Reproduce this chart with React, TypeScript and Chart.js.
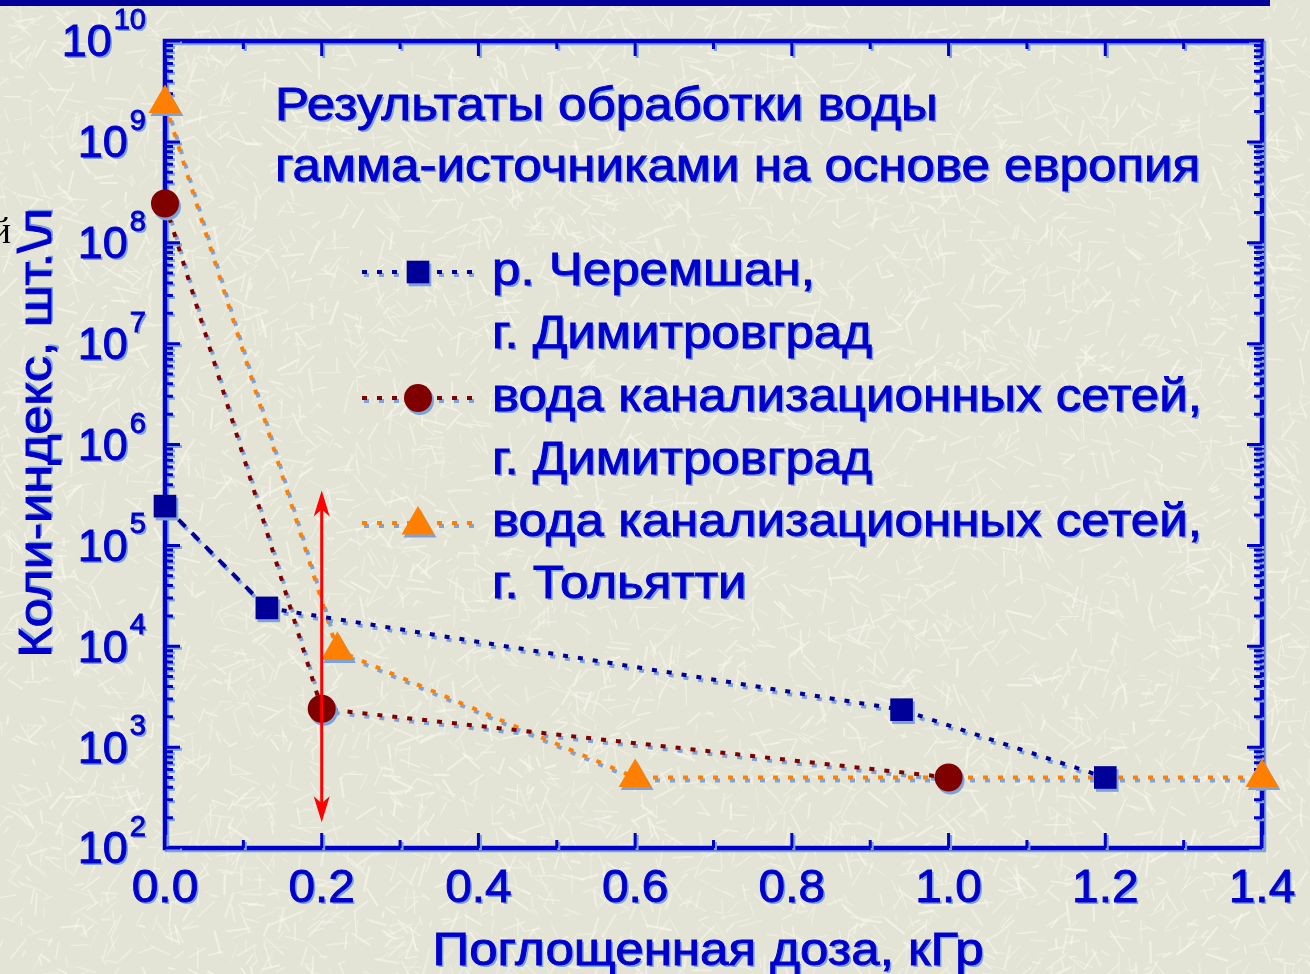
import { useEffect, useRef } from "react";
import { Chart, registerables } from "chart.js";

Chart.register(...registerables);

// Absorbed dose (kGy) and coli-index (cells per litre) for each water source
const doseCheremshan = [0, 0.13, 0.94, 1.2];
const coliCheremshan = [2.45e5, 2.4e4, 2.35e3, 500];

const doseDimitrovgrad = [0, 0.2, 1.0];
const coliDimitrovgrad = [2.45e8, 2.4e3, 500];

const doseTogliatti = [0, 0.22, 0.6, 1.4];
const coliTogliatti = [2.4e9, 9.1e3, 500, 500];

const seriesLabels = [
  ["р. Черемшан,", "г. Димитровград"],
  ["вода канализационных сетей,", "г. Димитровград"],
  ["вода канализационных сетей,", "г. Тольятти"],
];
const seriesColors = ["#000099", "#800000", "#FF8000"];

const titleLines = ["Результаты обработки воды", "гамма-источниками на основе европия"];
const xTitle = "Поглощенная доза, кГр";
const yTitle = "Коли-индекс, шт.\\л";

const xTickValues = [0, 0.2, 0.4, 0.6, 0.8, 1.0, 1.2, 1.4];
const xTickLabels = ["0.0", "0.2", "0.4", "0.6", "0.8", "1.0", "1.2", "1.4"];
const xMinorValues = [0.1, 0.3, 0.5, 0.7, 0.9, 1.1, 1.3];
const yExponents = [2, 3, 4, 5, 6, 7, 8, 9, 10];

// Threshold marker: vertical double-headed arrow at 0.2 kGy
const arrowDose = 0.2;
const arrowTop = 3.5e5;
const arrowBottom = 180;

const FONT = '"Liberation Sans", Arial, sans-serif';
const INK = "#0000CC";
const SHADOW = "#7EA2D8";
const PROSE = `46px ${FONT}`;
const PROSE_STRETCH = 1.11;

function fabricNoise(seed: number) {
  let a = seed;
  return () => {
    a = (a + 0x6d2b79f5) | 0;
    let t = Math.imul(a ^ (a >>> 15), 1 | a);
    t = (t + Math.imul(t ^ (t >>> 7), 61 | t)) ^ t;
    return ((t ^ (t >>> 14)) >>> 0) / 4294967296;
  };
}

function setShadow(ctx: CanvasRenderingContext2D, dx = 2, dy = 2) {
  ctx.shadowColor = SHADOW;
  ctx.shadowOffsetX = dx;
  ctx.shadowOffsetY = dy;
  ctx.shadowBlur = 0;
}

// Filled text (with its drop shadow) plus a hairline outline for a heavier look
function inkText(ctx: CanvasRenderingContext2D, text: string, x: number, y: number) {
  ctx.fillText(text, x, y);
  const sc = ctx.shadowColor;
  ctx.shadowColor = "rgba(0,0,0,0)";
  ctx.lineWidth = 0.9;
  ctx.strokeText(text, x, y);
  ctx.shadowColor = sc;
}

function wideText(
  ctx: CanvasRenderingContext2D,
  text: string,
  x: number,
  y: number,
  sx: number,
  align: CanvasTextAlign,
  rot = 0
) {
  ctx.save();
  ctx.translate(x, y);
  if (rot) ctx.rotate(rot);
  ctx.scale(sx, 1);
  ctx.textAlign = align;
  inkText(ctx, text, 0, 0);
  ctx.restore();
}

function drawMarker(ctx: CanvasRenderingContext2D, kind: number, x: number, y: number) {
  ctx.fillStyle = seriesColors[kind];
  ctx.beginPath();
  if (kind === 0) {
    const h = 16 * Math.SQRT1_2;
    ctx.rect(x - h, y - h, 2 * h, 2 * h);
  } else if (kind === 1) {
    ctx.arc(x, y, 14, 0, Math.PI * 2);
  } else {
    const r = 19;
    for (let k = 0; k < 3; k++) {
      const a = (k * 2 * Math.PI) / 3;
      const px = x + Math.sin(a) * r;
      const py = y - Math.cos(a) * r;
      if (k === 0) ctx.moveTo(px, py);
      else ctx.lineTo(px, py);
    }
    ctx.closePath();
  }
  ctx.fill();
}

const framePlugin = {
  id: "frame",
  beforeDraw(chart: any) {
    const ctx: CanvasRenderingContext2D = chart.ctx;
    const W = chart.width;
    const H = chart.height;
    ctx.save();
    ctx.fillStyle = "#E3E3D6";
    ctx.fillRect(0, 0, W, H);
    // woven-fibre backdrop
    const rnd = fabricNoise(20240611);
    ctx.lineCap = "round";
    for (let i = 0; i < 6500; i++) {
      const x = rnd() * W;
      const y = rnd() * H;
      const len = 5 + rnd() * 20;
      const ang = rnd() * Math.PI;
      ctx.strokeStyle = `rgba(248,248,238,${0.3 + rnd() * 0.35})`;
      ctx.lineWidth = 1 + rnd() * 1.5;
      ctx.beginPath();
      ctx.moveTo(x, y);
      ctx.lineTo(x + Math.cos(ang) * len, y + Math.sin(ang) * len);
      ctx.stroke();
    }
    // top band
    ctx.fillStyle = "#000099";
    ctx.fillRect(0, 0, 1270, 6);

    // stray glyph at the left edge
    ctx.fillStyle = "#000000";
    ctx.font = '38px "Liberation Serif", serif';
    ctx.textAlign = "right";
    ctx.textBaseline = "alphabetic";
    ctx.fillText("й", 11, 243);
    ctx.restore();
  },
  beforeDatasetsDraw(chart: any) {
    const ctx: CanvasRenderingContext2D = chart.ctx;
    const xs = chart.scales.x;
    const ys = chart.scales.y;
    const { left, right, top, bottom } = chart.chartArea;

    ctx.save();
    setShadow(ctx, 2, 2);
    ctx.strokeStyle = INK;
    ctx.fillStyle = INK;

    // frame
    ctx.lineWidth = 4.5;
    ctx.lineJoin = "miter";
    ctx.strokeRect(left, top, right - left, bottom - top);

    // ticks (pointing inward, mirrored on all sides)
    ctx.lineWidth = 3;
    ctx.beginPath();
    const xTick = (v: number, len: number) => {
      const px = xs.getPixelForValue(v);
      ctx.moveTo(px, bottom);
      ctx.lineTo(px, bottom - len);
      ctx.moveTo(px, top);
      ctx.lineTo(px, top + len);
    };
    const yTick = (v: number, len: number) => {
      const py = ys.getPixelForValue(v);
      ctx.moveTo(left, py);
      ctx.lineTo(left + len, py);
      ctx.moveTo(right, py);
      ctx.lineTo(right - len, py);
    };
    xTickValues.forEach((v) => xTick(v, 15));
    xMinorValues.forEach((v) => xTick(v, 8));
    yExponents.forEach((e) => {
      yTick(Math.pow(10, e), 15);
      if (e < 10) for (let m = 2; m <= 9; m++) yTick(m * Math.pow(10, e), 8);
    });
    ctx.stroke();

    ctx.textBaseline = "middle";

    // x tick labels
    ctx.font = `46px ${FONT}`;
    xTickValues.forEach((v, i) => {
      wideText(ctx, xTickLabels[i], xs.getPixelForValue(v), 889, 1.04, "center");
    });

    // y tick labels: 10 with superscript exponent
    const labelRight = 146;
    yExponents.forEach((e) => {
      const py = ys.getPixelForValue(Math.pow(10, e));
      ctx.font = `29px ${FONT}`;
      const ew = ctx.measureText(String(e)).width;
      ctx.textAlign = "left";
      inkText(ctx, String(e), labelRight - ew, py - 20);
      ctx.font = `45px ${FONT}`;
      ctx.textAlign = "right";
      inkText(ctx, "10", labelRight - ew - 2, py + 3);
    });

    // axis titles
    ctx.font = PROSE;
    wideText(ctx, xTitle, 708, 952, PROSE_STRETCH, "center");
    ctx.shadowOffsetX = 2;
    ctx.shadowOffsetY = -2;
    wideText(ctx, yTitle, 38, 433, PROSE_STRETCH * 1.02, "center", -Math.PI / 2);
    ctx.shadowOffsetX = 2;
    ctx.shadowOffsetY = 2;

    // chart title
    wideText(ctx, titleLines[0], 275, 107, PROSE_STRETCH, "left");
    wideText(ctx, titleLines[1], 275, 168, PROSE_STRETCH, "left");

    // legend text
    const rows = [272, 335, 398, 461, 523, 585];
    let r = 0;
    seriesLabels.forEach((lines) => {
      lines.forEach((t) => {
        wideText(ctx, t, 492, rows[r++], PROSE_STRETCH, "left");
      });
    });
    ctx.restore();

    // shadows for the data lines and markers
    ctx.save();
    setShadow(ctx, 2, 3);
  },
  afterDatasetsDraw(chart: any) {
    const ctx: CanvasRenderingContext2D = chart.ctx;
    ctx.restore();

    // legend samples
    ctx.save();
    setShadow(ctx, 2, 3);
    const sampleRows = [272, 398, 523];
    sampleRows.forEach((y, k) => {
      ctx.strokeStyle = seriesColors[k];
      ctx.lineWidth = 4;
      ctx.setLineDash([5, 10]);
      ctx.beginPath();
      ctx.moveTo(362, y);
      ctx.lineTo(472, y);
      ctx.stroke();
      ctx.setLineDash([]);
      drawMarker(ctx, k, 418, k === 2 ? y + 2 : y);
    });
    ctx.restore();

    // red arrow
    const xs = chart.scales.x;
    const ys = chart.scales.y;
    const ax = xs.getPixelForValue(arrowDose);
    const yTop = ys.getPixelForValue(arrowTop);
    const yBot = ys.getPixelForValue(arrowBottom);
    ctx.save();
    ctx.strokeStyle = "#FF0000";
    ctx.fillStyle = "#FF0000";
    ctx.lineWidth = 3;
    ctx.beginPath();
    ctx.moveTo(ax, yTop + 10);
    ctx.lineTo(ax, yBot - 10);
    ctx.stroke();
    const head = (tipY: number, dir: number) => {
      ctx.beginPath();
      ctx.moveTo(ax, tipY);
      ctx.lineTo(ax + 8, tipY + dir * 26);
      ctx.lineTo(ax, tipY + dir * 19);
      ctx.lineTo(ax - 8, tipY + dir * 26);
      ctx.closePath();
      ctx.fill();
    };
    head(yTop, 1);
    head(yBot, -1);
    ctx.restore();
  },
};

function toPoints(xs: number[], ys: number[]) {
  return xs.map((x, i) => ({ x, y: ys[i] }));
}

export default function App() {
  const canvasRef = useRef<HTMLCanvasElement | null>(null);

  useEffect(() => {
    const canvas = canvasRef.current;
    if (!canvas) return;
    const common = {
      borderWidth: 4,
      borderDash: [5, 10],
      borderCapStyle: "butt" as const,
      tension: 0,
      pointBorderWidth: 0,
      pointHoverRadius: 0,
      clip: false as const,
      fill: false,
    };
    const chart = new Chart(canvas, {
      type: "line",
      data: {
        datasets: [
          {
            ...common,
            label: seriesLabels[0].join(" "),
            data: toPoints(doseCheremshan, coliCheremshan),
            borderColor: seriesColors[0],
            pointBackgroundColor: seriesColors[0],
            pointStyle: "rect",
            pointRadius: 16,
            segment: {
              borderDash: (c: any) => (c.p0DataIndex === 0 ? [10, 9] : undefined),
            },
          },
          {
            ...common,
            label: seriesLabels[1].join(" "),
            data: toPoints(doseDimitrovgrad, coliDimitrovgrad),
            borderColor: seriesColors[1],
            pointBackgroundColor: seriesColors[1],
            pointStyle: "circle",
            pointRadius: 14,
          },
          {
            ...common,
            label: seriesLabels[2].join(" "),
            data: toPoints(doseTogliatti, coliTogliatti),
            borderColor: seriesColors[2],
            pointBackgroundColor: seriesColors[2],
            pointStyle: "triangle",
            pointRadius: 19,
          },
        ],
      },
      options: {
        responsive: false,
        animation: false,
        events: [],
        layout: { padding: { left: 165, right: 48, top: 41, bottom: 126 } },
        scales: {
          x: { type: "linear", min: 0, max: 1.4, display: false },
          y: { type: "logarithmic", min: 100, max: 1e10, display: false },
        },
        plugins: {
          legend: { display: false },
          tooltip: { enabled: false },
        },
      },
      plugins: [framePlugin],
    });
    return () => chart.destroy();
  }, []);

  return (
    <div style={{ position: "fixed", left: 0, top: 0, width: 1310, height: 974 }}>
      <canvas ref={canvasRef} width={1310} height={974} style={{ display: "block", width: 1310, height: 974 }} />
    </div>
  );
}
